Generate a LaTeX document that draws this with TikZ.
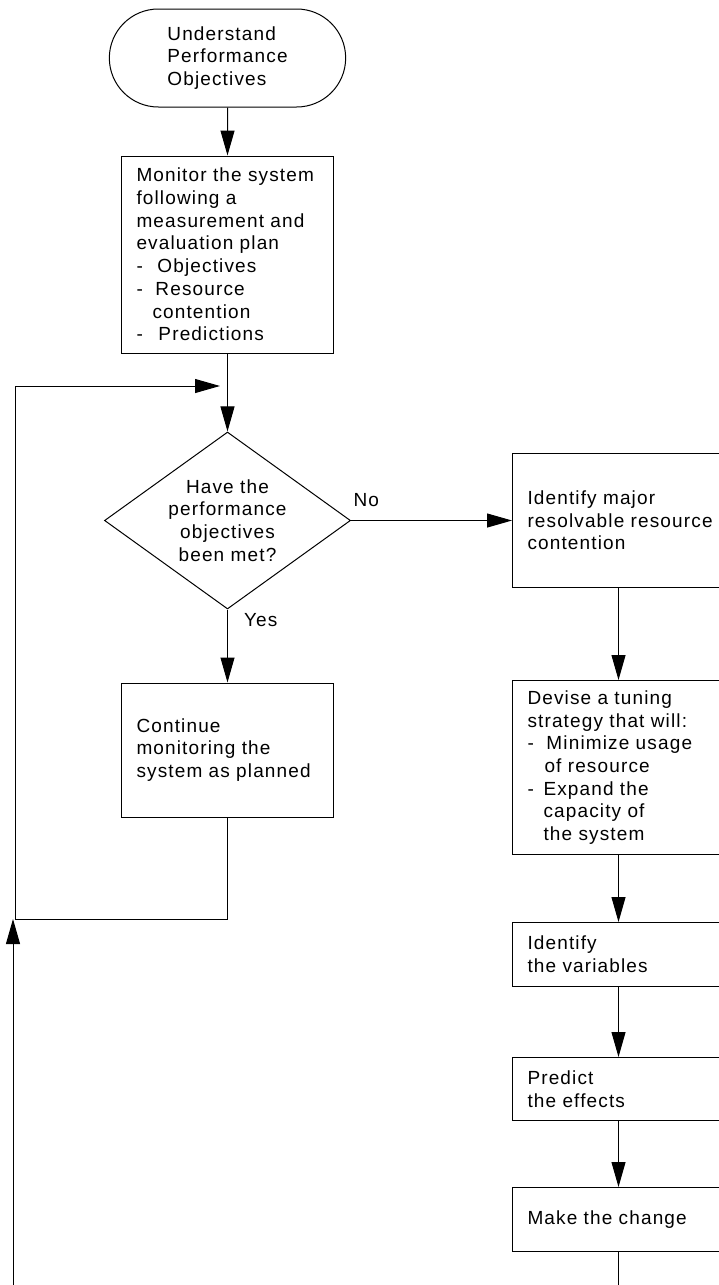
\documentclass[tikz,border=0pt]{standalone}
\usepackage{fontspec}
\setmainfont[LetterSpace=6]{Liberation Sans}
\usetikzlibrary{shapes,arrows.meta,positioning}
\newcommand{\dashitem}[1]{\makebox[#1][l]{-}}

\begin{document}
\begin{tikzpicture}[
    x=1pt, y=-1pt,
    line width=1pt,
    node distance=60pt,
    txt/.style={font=\fontsize{19}{22.7}\selectfont},
    term/.style={rounded rectangle, draw, txt, align=left, minimum width=243pt, minimum height=98pt},
    box/.style={rectangle, draw, txt, align=left, text width=182pt, inner xsep=15pt},
    decision/.style={diamond, draw, txt, align=center, aspect=1.39, inner sep=0pt, minimum width=246pt, minimum height=177pt},
    lbl/.style={txt, inner sep=1pt},
    arrow/.style={-{Triangle[length=25pt,width=14pt]}}
]
\useasboundingbox (0,0) rectangle (718,1285);

\node[term] (start) at (227.5,58) {Understand\\Performance\\Objectives};
\node[box, below=48pt of start, minimum height=197pt] (monitor) {Monitor the system\\following a\\measurement and\\evaluation plan\\\dashitem{21pt}Objectives\\\dashitem{19pt}Resource\\\hspace*{16pt}contention\\\dashitem{22pt}Predictions};
\node[decision, below=78pt of monitor] (met) {Have the\\performance\\objectives\\been met?};
\node[box, below=73pt of met, minimum height=134pt] (cont) {Continue\\monitoring the\\system as planned};
\node[box, right=161pt of met, minimum height=134pt] (idmaj) {Identify major\\\mbox{resolvable resource}\\contention};
\node[box, below=92pt of idmaj, minimum height=174pt] (devise) {Devise a tuning\\strategy that will:\\\dashitem{19pt}Minimize usage\\\hspace*{17pt}of resource\\\dashitem{16pt}Expand the\\\hspace*{16pt}capacity of\\\hspace*{16pt}the system};
\node[box, below=67pt of devise, minimum height=64pt] (vars) {Identify\\the variables};
\node[box, below=70pt of vars, minimum height=63pt] (predict) {Predict\\the effects};
\node[box, below=66pt of predict, minimum height=64pt] (change) {Make the change};

\node[lbl, anchor=south west] (no) at ([xshift=1pt,yshift=12pt]met.east) {No};
\node[lbl, anchor=north west] (yes) at ([xshift=15pt,yshift=-2pt]met.south) {Yes};

\coordinate (back) at (15,919);
\coordinate (loopin) at (220,386);
\coordinate (entry) at (13,1285);
\coordinate (exit) at (change.south |- entry);

\draw[arrow] (start) -- (monitor);
\draw[arrow] (monitor) -- (met);
\draw[arrow] (met) -- (cont);
\draw[arrow] (met) -- (idmaj);
\draw[arrow] (idmaj) -- (devise);
\draw[arrow] (devise) -- (vars);
\draw[arrow] (vars) -- (predict);
\draw[arrow] (predict) -- (change);
\draw (change) -- (exit);
\draw[arrow] (cont.south) |- (back) |- (loopin);
\draw[arrow] (entry) -- (entry |- back);
\end{tikzpicture}
\end{document}
